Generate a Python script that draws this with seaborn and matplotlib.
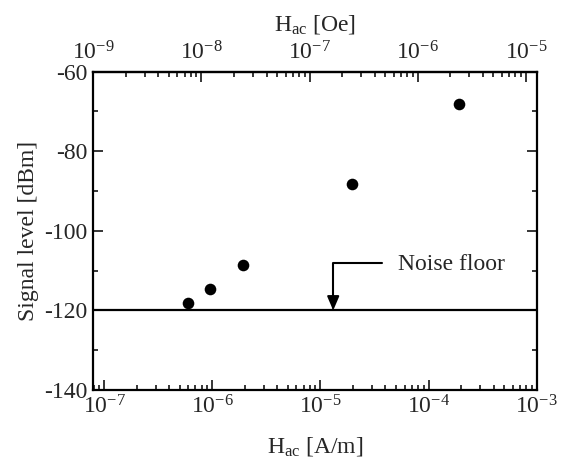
import numpy as np
import pandas as pd
import matplotlib
matplotlib.use("Agg")
import matplotlib.pyplot as plt
import matplotlib.ticker as mticker
import seaborn as sns

# Data
h_am = [6.0e-7, 9.5e-7, 1.94e-6, 1.96e-5, 1.91e-4]      # H_ac [A/m]
signal = [-118.2, -114.5, -108.6, -88.2, -68.2]          # Signal level [dBm]
noise_floor = -120
oe_to_am = 1000 / (4 * np.pi)                            # 1 Oe = 79.577 A/m
x_max = 1e-3
x_min = 1e-9 * oe_to_am
bottom_ticks = [1e-7, 1e-6, 1e-5, 1e-4, 1e-3]
top_ticks = [1e-9, 1e-8, 1e-7, 1e-6, 1e-5]
y_ticks = [-140, -120, -100, -80, -60]
arrow_x, arrow_from_x, arrow_from_y = 1.315e-5, 3.7e-5, -108.2
note_x, note_y = 5.2e-5, -108.5

sns.set_style("ticks")
plt.rcParams["font.family"] = ["Liberation Serif", "DejaVu Serif"]
plt.rcParams["mathtext.fontset"] = "custom"
plt.rcParams["mathtext.rm"] = "Liberation Serif"
plt.rcParams["mathtext.it"] = "Liberation Serif:italic"
plt.rcParams["mathtext.default"] = "regular"
plt.rcParams["axes.unicode_minus"] = False

df = pd.DataFrame({"H": h_am, "S": signal})

fig = plt.figure(figsize=(5.79, 4.65), dpi=100)
ax = fig.add_axes([0.1611, 0.1613, 0.9269 - 0.1611, 0.8458 - 0.1613])

sns.scatterplot(data=df, x="H", y="S", ax=ax, color="black", s=70,
                edgecolor="black", linewidth=0, zorder=3)
ax.axhline(noise_floor, color="black", lw=1.6, zorder=2)

ax.set_xscale("log")
ax.set_xlim(x_min * 0.9999, x_max)
ax.set_ylim(-140, -60)
ax.set_xticks(bottom_ticks)
ax.xaxis.set_major_formatter(mticker.LogFormatterSciNotation())
ax.xaxis.set_minor_locator(mticker.LogLocator(base=10, subs=np.arange(2, 10)))
ax.xaxis.set_minor_formatter(mticker.NullFormatter())
ax.set_yticks(y_ticks)
ax.yaxis.set_minor_locator(mticker.MultipleLocator(10))

ax.tick_params(which="both", direction="in", top=False, right=True,
               labelsize=17, color="black", width=1.1)
ax.tick_params(which="major", length=7, pad=4)
ax.tick_params(which="minor", length=3.5)
for sp in ax.spines.values():
    sp.set_linewidth(1.6)
    sp.set_color("black")

ax.set_xlabel(r"H$_{\rm ac}$ [A/m]", fontsize=17, labelpad=12)
ax.set_ylabel("Signal level [dBm]", fontsize=17, labelpad=4)

sec = ax.secondary_xaxis("top", functions=(lambda x: x / oe_to_am,
                                           lambda x: x * oe_to_am))
sec.set_xticks(top_ticks)
sec.xaxis.set_major_formatter(mticker.LogFormatterSciNotation())
sec.xaxis.set_minor_locator(mticker.LogLocator(base=10, subs=np.arange(2, 10)))
sec.xaxis.set_minor_formatter(mticker.NullFormatter())
sec.tick_params(which="both", direction="in", labelsize=17, color="black", width=1.1)
sec.tick_params(which="major", length=7, pad=5)
sec.tick_params(which="minor", length=3.5)
sec.spines["top"].set_linewidth(1.6)

fig.text(0.544, 1 - 24 / 465, r"H$_{\rm ac}$ [Oe]", fontsize=17,
         ha="center", va="center")

ax.annotate("", xy=(arrow_x, noise_floor), xytext=(arrow_from_x, arrow_from_y),
            arrowprops=dict(arrowstyle="-|>,head_length=0.7,head_width=0.3",
                            connectionstyle="angle,angleA=0,angleB=90,rad=0",
                            color="black", lw=1.5, shrinkA=0, shrinkB=0,
                            mutation_scale=12))
ax.text(note_x, note_y, "Noise floor", fontsize=17, va="center", ha="left")

fig.savefig("out.png", dpi=100)
